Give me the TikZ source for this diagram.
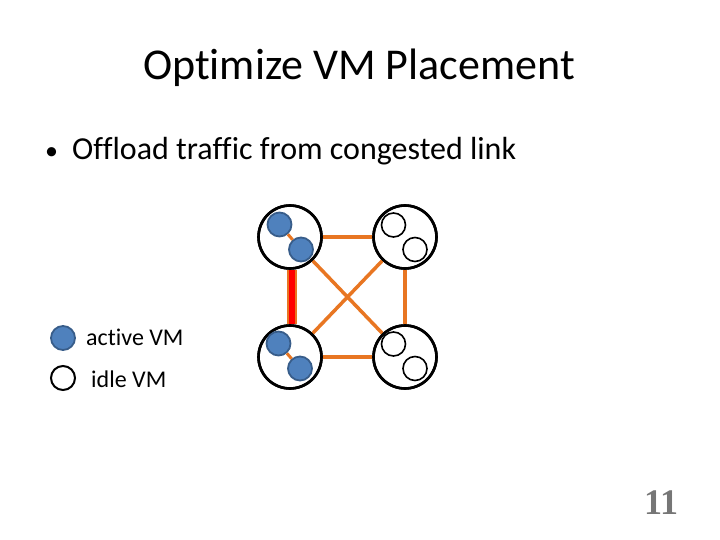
\documentclass[tikz,border=0pt]{standalone}
\usepackage{fontspec}
\setmainfont[Ligatures={NoCommon}]{Carlito}
\newfontfamily\numfont{Liberation Serif}
\definecolor{vmblue}{RGB}{79,129,189}
\definecolor{vmblueb}{RGB}{56,93,138}
\definecolor{linkor}{RGB}{232,118,34}
\definecolor{numgray}{RGB}{118,118,118}
\begin{document}
\begin{tikzpicture}[x=1pt,y=-1pt,
  host/.style={circle,draw=black,line width=2.6pt,minimum size=63pt,inner sep=0pt},
  active/.style={circle,draw=vmblueb,fill=vmblue,line width=1.8pt,minimum size=24pt,inner sep=0pt},
  idle/.style={circle,draw=black,line width=1.6pt,minimum size=24pt,inner sep=0pt},
  link/.style={draw=linkor,line width=3.5pt},
  txt/.style={inner sep=0pt,anchor=west}]
\useasboundingbox (0,0) rectangle (720,540);
% title and bullet
\node[font=\fontsize{44}{50}\selectfont] (title) at (359,68) {Optimize VM Placement};
\node[txt,font=\fontsize{32}{38}\selectfont] (bullet) at (45,151) {\makebox[27pt][l]{\fontsize{26}{30}\selectfont\textbullet}Offload traffic from congested link};
% hosts
\node[host] (h1) at (290,237) {};
\node[host] (h2) at (405,237) {};
\node[host] (h3) at (290,357) {};
\node[host] (h4) at (405,357) {};
% links
\draw[link] (h1) -- (h2);
\draw[link] (h2) -- (h4);
\draw[link] (h3) -- (h4);
\draw[link] (h1) -- (h4);
\draw[link] (h2) -- (h3);
\coordinate (ct) at (291.5,270);
\coordinate (cb) at (291.5,324);
\draw[draw=linkor,line width=10pt] (ct) -- (cb);
\draw[draw=red,line width=6pt] (ct) -- (cb);
% redraw hosts on top
\node[host] at (290,237) {};
\node[host] at (405,237) {};
\node[host] at (290,357) {};
\node[host] at (405,357) {};
% VMs
\node[active] (a1) at (279.5,224.5) {};
\node[active] (a2) at (301,249.5) {};
\node[active] (a3) at (278.5,343.5) {};
\node[active] (a4) at (300,368.5) {};
\draw[link,line width=3pt] (a1) -- (a2);
\draw[link,line width=3pt] (a3) -- (a4);
\node[idle] (i1) at (393.5,225) {};
\node[idle] (i2) at (415,249.5) {};
\node[idle] (i3) at (393.5,344) {};
\node[idle] (i4) at (415,368.5) {};
% legend
\node[active] (la) at (63,338) {};
\node[txt,font=\fontsize{24}{28}\selectfont] (lat) at (86,337) {active VM};
\node[idle,line width=2pt] (li) at (63,378) {};
\node[txt,font=\fontsize{24}{28}\selectfont] (lit) at (91,379) {idle VM};
% page number
\node[font=\numfont\bfseries\fontsize{36}{40}\selectfont,text=numgray] (num) at (661,503) {11};
\end{tikzpicture}
\end{document}
